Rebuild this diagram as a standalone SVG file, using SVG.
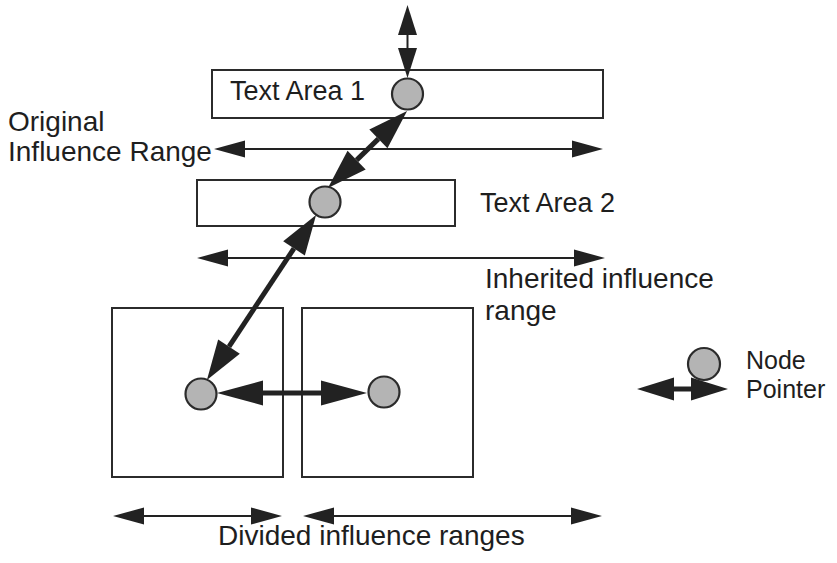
<svg xmlns="http://www.w3.org/2000/svg" width="837" height="563" viewBox="0 0 837 563">
  <style>
    .box { fill: none; stroke: #2b2b2b; stroke-width: 2; }
    .node { fill: #b4b4b4; stroke: #2b2b2b; stroke-width: 2.2; }
    .lbl { font-family: "Liberation Sans", Arial, Helvetica, sans-serif; font-size: 28px; fill: #1e1e1e; }
    .ta { font-size: 27px; }
    .lg { font-size: 25px; }
    .thin { stroke: #222; stroke-width: 2; fill: none; }
    .thick { stroke: #222; stroke-width: 5; fill: none; }
  </style>
  <defs>
    <marker id="hs" markerUnits="userSpaceOnUse" markerWidth="31" markerHeight="17" refX="0" refY="8.5" orient="auto-start-reverse" overflow="visible">
      <path d="M0,0 L31,8.5 L0,17 Z" fill="#222"/>
    </marker>
    <marker id="hv" markerUnits="userSpaceOnUse" markerWidth="30" markerHeight="19" refX="0" refY="9.5" orient="auto-start-reverse" overflow="visible">
      <path d="M0,0 L30,9.5 L0,19 Z" fill="#222"/>
    </marker>
    <marker id="hm" markerUnits="userSpaceOnUse" markerWidth="40" markerHeight="26" refX="0" refY="13" orient="auto-start-reverse" overflow="visible">
      <path d="M0,0 L40,13 L0,26 Z" fill="#222"/>
    </marker>
    <marker id="hl" markerUnits="userSpaceOnUse" markerWidth="46" markerHeight="25" refX="0" refY="12.5" orient="auto-start-reverse" overflow="visible">
      <path d="M0,0 L46,12.5 L0,25 Z" fill="#222"/>
    </marker>
    <marker id="hk" markerUnits="userSpaceOnUse" markerWidth="37" markerHeight="23" refX="0" refY="11.5" orient="auto-start-reverse" overflow="visible">
      <path d="M0,0 L37,11.5 L0,23 Z" fill="#222"/>
    </marker>
  </defs>
  <rect width="837" height="563" fill="#ffffff"/>

  <g id="text-area-1">
    <rect class="box" x="212" y="70" width="391" height="48"/>
    <text class="lbl ta" x="230" y="100">Text Area 1</text>
  </g>
  <g id="text-area-2">
    <rect class="box" x="197" y="180" width="258" height="46"/>
    <text class="lbl ta" x="480" y="212">Text Area 2</text>
  </g>
  <g id="area-3">
    <rect class="box" x="112" y="308" width="171" height="169"/>
  </g>
  <g id="area-4">
    <rect class="box" x="302" y="308" width="171" height="169"/>
  </g>

  <g id="label-original">
    <text class="lbl" x="8" y="131">Original</text>
    <text class="lbl" x="8" y="161">Influence Range</text>
  </g>
  <g id="label-inherited">
    <text class="lbl" x="485" y="288">Inherited influence</text>
    <text class="lbl" x="485" y="320">range</text>
  </g>
  <g id="label-divided">
    <text class="lbl" x="218" y="545">Divided influence ranges</text>
  </g>

  <g id="connectors">
    <line class="thin" x1="407.5" y1="35" x2="407.5" y2="48" stroke-width="3.5" marker-start="url(#hv)" marker-end="url(#hv)"/>
    <line class="thin" x1="245" y1="149" x2="572" y2="149" marker-start="url(#hs)" marker-end="url(#hs)"/>
    <line class="thin" x1="228" y1="258" x2="574" y2="258" marker-start="url(#hs)" marker-end="url(#hs)"/>
    <line class="thin" x1="144" y1="516" x2="251" y2="516" marker-start="url(#hs)" marker-end="url(#hs)"/>
    <line class="thin" x1="334" y1="516" x2="571" y2="516" marker-start="url(#hs)" marker-end="url(#hs)"/>
    <line class="thick" x1="356.6" y1="160.1" x2="378.4" y2="138.9" marker-start="url(#hm)" marker-end="url(#hm)"/>
    <line class="thick" x1="229" y1="346.6" x2="294" y2="248.4" marker-start="url(#hm)" marker-end="url(#hm)"/>
    <line class="thick" x1="263" y1="393" x2="321" y2="393" stroke-width="6" marker-start="url(#hl)" marker-end="url(#hl)"/>
    <line class="thick" x1="674" y1="389" x2="691" y2="389" stroke-width="6" marker-start="url(#hk)" marker-end="url(#hk)"/>
  </g>

  <g id="node-1"><circle class="node" cx="407.5" cy="94" r="15.5"/></g>
  <g id="node-2"><circle class="node" cx="325" cy="202" r="15.5"/></g>
  <g id="node-3"><circle class="node" cx="201" cy="394" r="15.5"/></g>
  <g id="node-4"><circle class="node" cx="384" cy="392" r="15.5"/></g>

  <g id="legend">
    <circle class="node" cx="704" cy="364" r="16"/>
    <text class="lbl lg" x="746" y="369">Node</text>
    <text class="lbl lg" x="746" y="398">Pointer</text>
  </g>
</svg>
